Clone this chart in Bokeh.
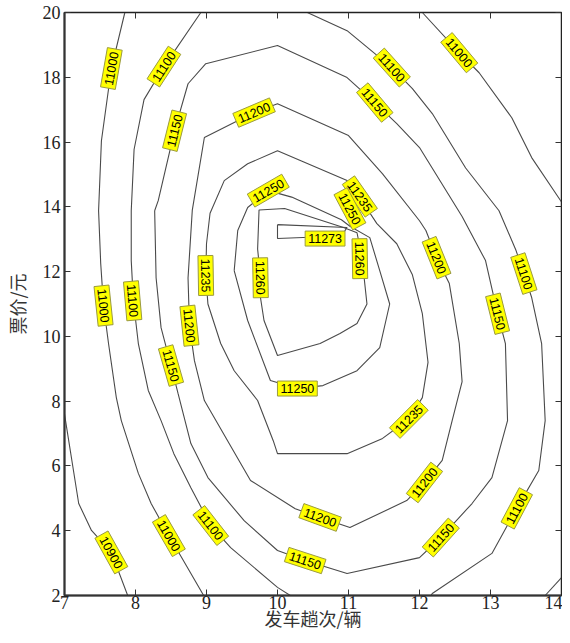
from bokeh.plotting import figure
from bokeh.models import ColumnDataSource, LinearAxis, FixedTicker, Range1d
from bokeh.core.properties import value
from bokeh.embed import file_html
from bokeh.resources import INLINE

# ---- contour lines, one pair of lists per line ----
c10900_x = [7.0, 7.2, 7.38, 7.66, 7.89]
c10900_y = [7.6, 4.84, 4.01, 3.33, 2.0]

c11000a_x = [7.85, 7.66, 7.52, 7.48, 7.51, 7.55, 7.62, 7.73, 7.80, 8.04, 8.22, 8.47, 8.96]
c11000a_y = [20.0, 18.27, 16.04, 13.88, 12.25, 10.95, 9.78, 8.11, 7.40, 5.77, 4.84, 3.85, 2.0]
c11000b_x = [12.04, 12.56, 12.84, 13.30, 13.58, 13.96, 14.0]
c11000b_y = [20.0, 18.76, 18.14, 16.75, 15.52, 14.28, 14.15]
c11000c_x = [13.77, 14.0]
c11000c_y = [2.0, 2.55]

c11100a_x = [8.92, 8.40, 8.12, 7.98, 7.94, 7.94, 7.97, 8.04, 8.18, 8.36, 8.54, 8.78, 9.06, 9.34, 10.0, 10.18]
c11100a_y = [20.0, 18.33, 17.31, 15.77, 13.88, 12.34, 11.10, 9.78, 8.33, 7.40, 6.38, 5.33, 4.16, 3.48, 2.25, 2.0]
c11100b_x = [10.42, 10.98, 11.61, 11.9, 12.18, 12.65, 13.12, 13.36, 13.47, 13.58, 13.72, 13.77, 13.68, 13.37, 13.02, 12.18, 12.16]
c11100b_y = [20.0, 19.44, 18.3, 17.65, 16.88, 15.2, 13.88, 12.65, 11.94, 11.2, 9.78, 7.4, 5.86, 4.69, 3.3, 2.06, 2.0]

c11150_x = [8.27, 8.32, 8.55, 8.74, 8.99, 10.0, 10.98, 11.37, 11.68, 12.0, 12.6, 12.93, 13.1, 13.21,
            13.24, 13.02, 12.74, 12.3, 12.0, 10.98, 10.39, 10.0, 9.53, 9.02, 8.78, 8.6, 8.50, 8.36, 8.29, 8.27]
c11150_y = [13.88, 14.19, 16.35, 17.8, 18.42, 18.98, 17.99, 17.22, 16.57, 15.83, 13.7, 12.34, 10.7, 9.78,
            7.4, 5.64, 4.84, 3.79, 3.17, 2.68, 3.08, 3.39, 4.31, 5.64, 6.69, 8.23, 9.10, 10.27, 11.81, 13.88]

c11200_x = [8.8, 8.97, 9.67, 10.0, 11.0, 11.48, 12.0, 12.09, 12.24, 12.42, 12.56, 12.6, 12.46, 12.32,
            12.07, 11.82, 11.02, 10.6, 10.25, 9.62, 8.97, 8.83, 8.76, 8.74, 8.8]
c11200_y = [13.9, 16.14, 16.91, 17.18, 16.2, 15.02, 13.57, 13.27, 12.43, 11.63, 9.78, 8.6, 7.4, 6.17,
            5.49, 4.93, 4.1, 4.41, 4.68, 5.55, 8.02, 9.25, 10.33, 11.8, 13.9]

c11235_x = [9.0, 9.05, 9.25, 9.58, 10.0, 10.98, 11.16, 11.4, 11.68, 11.9, 12.04, 12.12, 12.04, 11.85,
            11.48, 10.98, 10.0, 9.94, 9.72, 9.39, 9.2, 9.02, 8.99, 9.0]
c11235_y = [12.86, 13.8, 14.81, 15.33, 15.73, 14.81, 14.28, 13.48, 12.86, 11.9, 10.7, 9.2, 8.11, 7.45,
            6.85, 6.38, 6.38, 6.78, 8.02, 8.94, 9.78, 11.0, 11.88, 12.86]

c11250_x = [9.39, 9.44, 9.58, 9.87, 10.2, 10.9, 11.02, 11.3, 11.44, 11.58, 11.44, 11.12, 10.64, 10.28, 9.9, 9.58, 9.39]
c11250_y = [12.03, 13.27, 13.98, 14.5, 14.3, 13.6, 13.4, 13.05, 12.03, 11.0, 9.65, 8.94, 8.48, 8.39, 8.64, 10.49, 12.03]

c11260_x = [9.72, 9.74, 10.1, 10.93, 11.12, 11.19, 11.26, 11.12, 10.88, 10.6, 10.0, 9.81, 9.76, 9.76, 9.72]
c11260_y = [12.7, 13.9, 13.95, 13.36, 13.2, 12.43, 11.0, 10.4, 10.09, 9.78, 9.41, 10.49, 11.2, 11.81, 12.7]

c11273_x = [10.0, 10.0, 10.9, 10.98, 10.0]
c11273_y = [13.45, 13.02, 13.1, 13.36, 13.45]

# ---- contour labels ----
label_text = ["10900", "11000", "11000", "11000", "11000",
              "11100", "11100", "11100", "11100", "11100", "11100",
              "11150", "11150", "11150", "11150", "11150", "11150",
              "11200", "11200", "11200", "11200", "11200",
              "11235", "11235", "11235",
              "11250", "11250", "11250",
              "11260", "11260", "11273"]
label_x = [7.66, 7.66, 7.55, 8.47, 12.56,
           8.40, 7.96, 9.06, 11.61, 13.47, 13.37,
           8.55, 8.50, 10.39, 12.30, 13.10, 11.37,
           9.67, 8.76, 10.60, 12.07, 12.24,
           8.99, 11.16, 11.85,
           9.87, 11.02, 10.28,
           9.76, 11.16, 10.67]
label_y = [3.33, 18.27, 10.95, 3.85, 18.76,
           18.33, 11.10, 4.16, 18.30, 11.94, 4.69,
           16.35, 9.10, 3.08, 3.79, 10.70, 17.22,
           16.91, 10.33, 4.41, 5.49, 12.43,
           11.88, 14.32, 7.45,
           14.50, 13.94, 8.39,
           11.81, 12.40, 13.02]
label_angle = [-61, 80, -84, -60, -50,
               57, -85, -52, -48, -72, 62,
               76, -74, -18, 48, -76, -50,
               23, -84, -20, 52, -68,
               -89, -55, 45,
               30, -62, 0,
               -89, -89, 0]

x_ticks = [7, 8, 9, 10, 11, 12, 13, 14]
y_ticks = [2, 4, 6, 8, 10, 12, 14, 16, 18, 20]

lines_x = [c10900_x, c11000a_x, c11000b_x, c11000c_x, c11100a_x, c11100b_x,
           c11150_x, c11200_x, c11235_x, c11250_x, c11260_x, c11273_x]
lines_y = [c10900_y, c11000a_y, c11000b_y, c11000c_y, c11100a_y, c11100b_y,
           c11150_y, c11200_y, c11235_y, c11250_y, c11260_y, c11273_y]

p = figure(width=562, height=635, output_backend="svg", toolbar_location=None,
           x_range=Range1d(7, 14), y_range=Range1d(2, 20),
           min_border_left=63, min_border_right=1, min_border_top=12, min_border_bottom=40)
p.grid.visible = False
p.background_fill_color = "white"
p.outline_line_color = "#222222"
p.outline_line_width = 1.5

p.multi_line(xs=lines_x, ys=lines_y, line_color="#4a4a4a", line_width=1.1)

src = ColumnDataSource(dict(x=label_x, y=label_y, text=label_text, angle=label_angle))
p.text(x="x", y="y", text="text", angle="angle", angle_units="deg", source=src,
       text_align="center", text_baseline="middle", text_font_size="12.5px",
       text_font=value("Liberation Sans"),
       text_color="black", background_fill_color="#ffff00",
       border_line_color="#9a9a40", border_line_width=1, padding=3)

serif = "Liberation Serif"
cjk = "Noto Sans CJK SC"
for ax in (p.xaxis[0], p.yaxis[0]):
    ax.major_tick_in = 6
    ax.major_tick_out = 0
    ax.minor_tick_line_color = None
    ax.major_label_text_font = serif
    ax.major_label_text_font_size = "18px"
    ax.major_label_text_color = "#222222"
    ax.axis_line_color = "#333333"
    ax.axis_line_width = 2
    ax.major_tick_line_color = "#333333"
    ax.axis_label_text_font = cjk
    ax.axis_label_text_font_style = "normal"
    ax.axis_label_text_font_size = "18px"
    ax.axis_label_text_color = "#333333"
p.xaxis[0].ticker = FixedTicker(ticks=x_ticks)
p.yaxis[0].ticker = FixedTicker(ticks=y_ticks)
p.xaxis[0].axis_label = "发车趟次/辆"
p.yaxis[0].axis_label = "票价/元"
p.xaxis[0].major_label_standoff = 0
p.xaxis[0].axis_label_standoff = -7
p.yaxis[0].major_label_standoff = 4
p.yaxis[0].axis_label_standoff = 10

top = LinearAxis(ticker=FixedTicker(ticks=x_ticks))
right = LinearAxis(ticker=FixedTicker(ticks=y_ticks))
for ax in (top, right):
    ax.major_tick_in = 6
    ax.major_tick_out = 0
    ax.minor_tick_line_color = None
    ax.major_label_text_font_size = "1px"
    ax.major_label_text_color = None
    ax.major_label_standoff = 0
    ax.axis_line_color = "#222222"
    ax.major_tick_line_color = "#333333"
p.add_layout(top, "above")
p.add_layout(right, "right")

open("out.html", "w").write(file_html(p, INLINE))
